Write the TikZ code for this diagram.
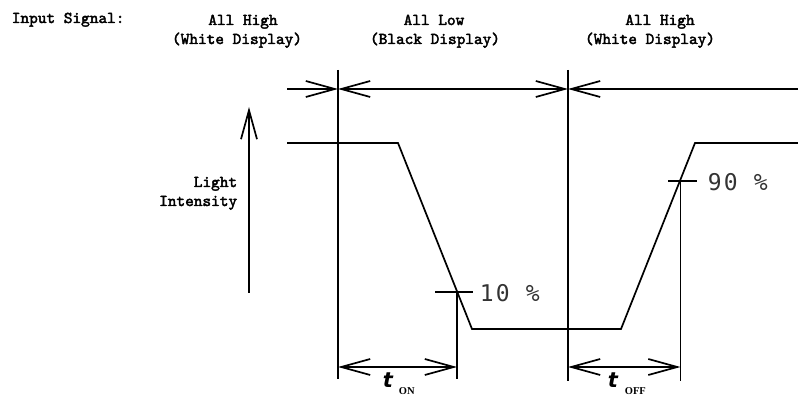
\documentclass[tikz,border=0pt]{standalone}
\usepackage{fontspec}
\usepackage{tikz}
\usetikzlibrary{arrows.meta}
\newfontfamily\lblfont[Extension=.otf,FakeBold=2.5]{lmmono10-regular}
\newfontfamily\pctfont[LetterSpace=10]{DejaVu Sans Mono}
\newfontfamily\tfont{DejaVu Sans}
\newfontfamily\subfont{Liberation Serif}
\tikzset{
  lbl/.style={inner sep=0pt,font=\lblfont\fontsize{16.5pt}{19pt}\selectfont},
  pct/.style={inner sep=0pt,text=black!80,font=\pctfont\fontsize{23pt}{26pt}\selectfont},
  tsym/.style={inner sep=0pt,font=\tfont\bfseries\itshape\fontsize{21pt}{24pt}\selectfont},
  tsub/.style={inner sep=0pt,font=\subfont\bfseries\fontsize{10.5pt}{12pt}\selectfont},
  ln/.style={line width=1.7pt},
  barb/.tip={Straight Barb[length=29pt,width=16pt]},
}
\begin{document}
\begin{tikzpicture}[x=1pt,y=1pt,ln]
  \useasboundingbox (0,0) rectangle (798,396);
  % labels on top
  \node[lbl,anchor=base west] (insig) at (11,373) {Input Signal:};
  \node[lbl,anchor=base] (hi1) at (243,371) {All High};
  \node[lbl,anchor=base] (wd1) at (237,352) {(White Display)};
  \node[lbl,anchor=base] (lo) at (434,371) {All Low};
  \node[lbl,anchor=base] (bd) at (435,352) {(Black Display)};
  \node[lbl,anchor=base] (hi2) at (660,371) {All High};
  \node[lbl,anchor=base] (wd2) at (650,352) {(White Display)};
  \node[lbl,anchor=base east] (light) at (238,209) {Light};
  \node[lbl,anchor=base east] (inten) at (238,190) {Intensity};

  % time marks
  \coordinate (l0) at (287,307);
  \coordinate (r0) at (798,307);
  \coordinate (s1) at (338,307);
  \coordinate (s2) at (568,307);
  \coordinate (s1t) at (338,326);
  \coordinate (s1b) at (338,17);
  \coordinate (s2t) at (568,326);
  \coordinate (s2b) at (568,15);
  \draw (s1t) -- (s1b);
  \draw (s2t) -- (s2b);
  \draw[-barb] (l0) -- (s1);
  \draw[barb-barb] (s1) -- (s2);
  \draw[-barb] (r0) -- (s2);

  % light intensity axis
  \coordinate (ax0) at (249,103);
  \coordinate (ax1) at (249,289);
  \draw[-barb] (ax0) -- (ax1);

  % response curve
  \coordinate (w0) at (287,253);
  \coordinate (w1) at (398,253);
  \coordinate (w2) at (472,67);
  \coordinate (w3) at (621,67);
  \coordinate (w4) at (695,253);
  \coordinate (w5) at (798,253);
  \draw (w0) -- (w1) -- (w2) -- (w3) -- (w4) -- (w5);

  % 10 and 90 percent points
  \coordinate (p10) at (457,104);
  \coordinate (p10l) at (435,104);
  \coordinate (p10r) at (473,104);
  \coordinate (p10b) at (457,17);
  \draw (p10l) -- (p10r);
  \draw (p10) -- (p10b);
  \node[pct,anchor=base west] (ten) at (479,94) {10 \%};
  \coordinate (p90) at (680.5,215);
  \coordinate (p90l) at (668,215);
  \coordinate (p90r) at (697,215);
  \coordinate (p90b) at (680.5,15);
  \draw (p90l) -- (p90r);
  \draw (p90) -- (p90b);
  \node[pct,anchor=base west] (ninety) at (707,205) {90 \%};

  % response times
  \coordinate (on0) at (338,29);
  \coordinate (on1) at (457,29);
  \coordinate (off0) at (568,29);
  \coordinate (off1) at (680.5,29);
  \draw[barb-barb] (on0) -- (on1);
  \draw[barb-barb] (off0) -- (off1);
  \node[tsym,anchor=base west] (ton) at (382,8) {t};
  \node[tsub,anchor=base west] (tonsub) at (398,1) {ON};
  \node[tsym,anchor=base west] (toff) at (607,8) {t};
  \node[tsub,anchor=base west] (toffsub) at (624,1) {OFF};
\end{tikzpicture}
\end{document}
